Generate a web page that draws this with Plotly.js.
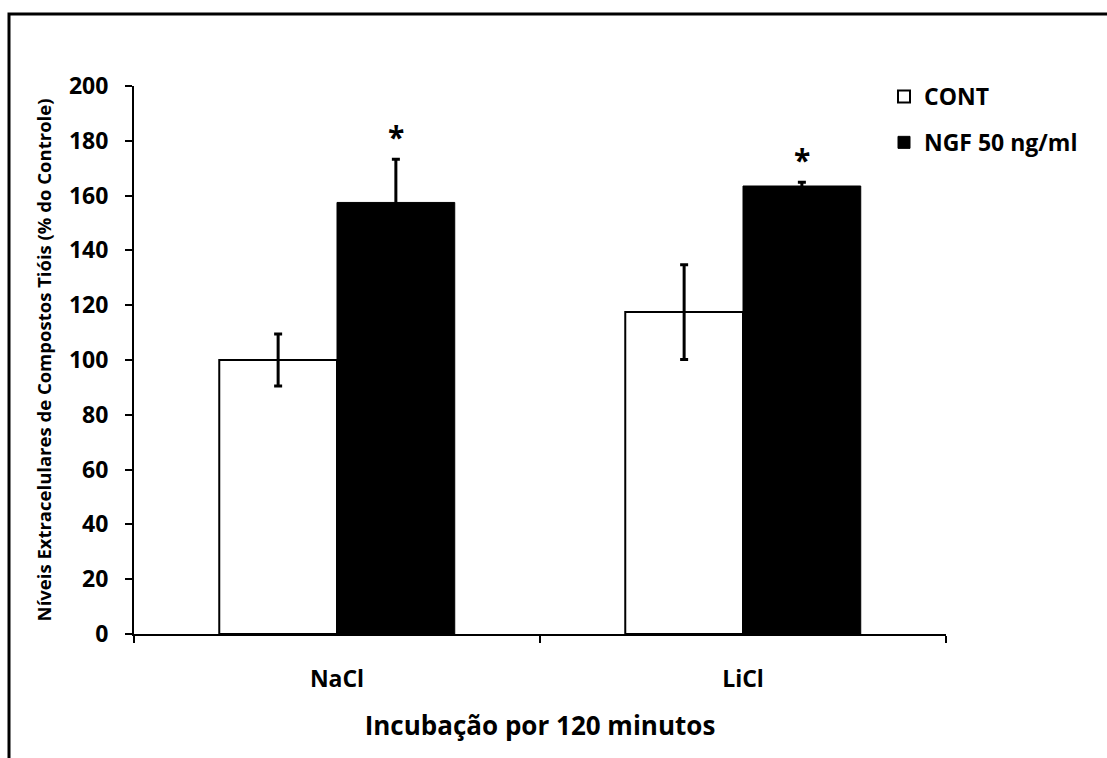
<!DOCTYPE html>
<html>
<head>
<meta charset="utf-8">
<script src="https://cdn.plot.ly/plotly-3.0.1.min.js"></script>
<style>html,body{margin:0;padding:0;background:#fff;}#chart{width:1107px;height:758px;}</style>
</head>
<body>
<div id="chart"></div>
<script>
const categories = ["NaCl", "LiCl"];
const contValues = [100, 117.5];
const contErrors = [9.5, 17.3];
const ngfValues = [157.5, 163.5];
const ngfErrors = [15.8, 1.4];
const seriesNames = ["CONT", "NGF 50 ng/ml"];
const significant = [true, true];
const yTicks = [0, 20, 40, 60, 80, 100, 120, 140, 160, 180, 200];

const FONT = "'Open Sans', Lato, 'Liberation Sans', sans-serif";
const W = 1107, H = 758;
const L = 134, R = 946, T = 86, B = 634;
const bargap = 0.42;

function px2paperX(p) { return (p - L) / (R - L); }
function px2paperY(p) { return (B - p) / (B - T); }

const traces = [
  {
    type: "bar", name: seriesNames[0], x: categories, y: contValues,
    marker: {color: "#ffffff", line: {color: "#000000", width: 2}},
    error_y: {type: "data", array: contErrors, visible: true, color: "#000000", thickness: 3, width: 4},
    legendgroup: "a"
  },
  {
    type: "bar", name: seriesNames[1], x: categories, y: ngfValues,
    marker: {color: "#000000", line: {color: "#000000", width: 1}},
    error_y: {type: "data", array: ngfErrors, visible: true, color: "#000000", thickness: 3, width: 4},
    legendgroup: "b"
  }
];

const offset = (1 - bargap) / 4;
const annotations = categories.map((c, i) => significant[i] ? {
  x: i + offset, y: ngfValues[i] + ngfErrors[i], xref: "x", yref: "y",
  text: "*", showarrow: false, yanchor: "bottom",
  font: {family: FONT, size: 30, color: "#000", weight: "bold"}
} : null).filter(a => a);

const shapes = [{
  type: "rect", xref: "paper", yref: "paper",
  x0: px2paperX(9), x1: px2paperX(W + 20),
  y0: px2paperY(14), y1: px2paperY(H + 20),
  line: {color: "#000", width: 3}, fillcolor: "rgba(0,0,0,0)", layer: "above"
}];

const layout = {
  width: W, height: H,
  margin: {l: L, r: W - R, t: T, b: H - B, pad: 0},
  paper_bgcolor: "#fff", plot_bgcolor: "#fff",
  barmode: "group", bargap: bargap, bargroupgap: 0,
  showlegend: true,
  legend: {
    x: px2paperX(884), y: px2paperY(75), xanchor: "left", yanchor: "top",
    font: {family: FONT, size: 23, color: "#000", weight: "bold"},
    traceorder: "grouped", tracegroupgap: 13, itemwidth: 30,
    bgcolor: "rgba(0,0,0,0)"
  },
  xaxis: {
    type: "category", tickson: "boundaries", ticks: "outside", ticklen: 7, tickwidth: 2,
    tickcolor: "#000", showline: true, linecolor: "#000", linewidth: 2,
    showgrid: false, zeroline: false, ticklabelstandoff: 23,
    tickfont: {family: FONT, size: 23, color: "#000", weight: "bold"},
    title: {text: "Incubação por 120 minutos", font: {family: FONT, size: 26, color: "#000", weight: "bold"}, standoff: 24}
  },
  yaxis: {
    range: [0, 200], tickvals: yTicks, ticks: "outside", ticklen: 7, tickwidth: 2,
    tickcolor: "#000", showline: true, linecolor: "#000", linewidth: 2,
    showgrid: false, zeroline: false, ticklabelstandoff: 12,
    tickfont: {family: FONT, size: 23, color: "#000", weight: "bold"},
    title: {text: "Níveis Extracelulares de Compostos Tióis (% do Controle)", font: {family: FONT, size: 18.5, color: "#000", weight: "bold"}, standoff: 12}
  },
  annotations: annotations,
  shapes: shapes
};

Plotly.newPlot("chart", traces, layout, {displayModeBar: false, staticPlot: true});
</script>
</body>
</html>
